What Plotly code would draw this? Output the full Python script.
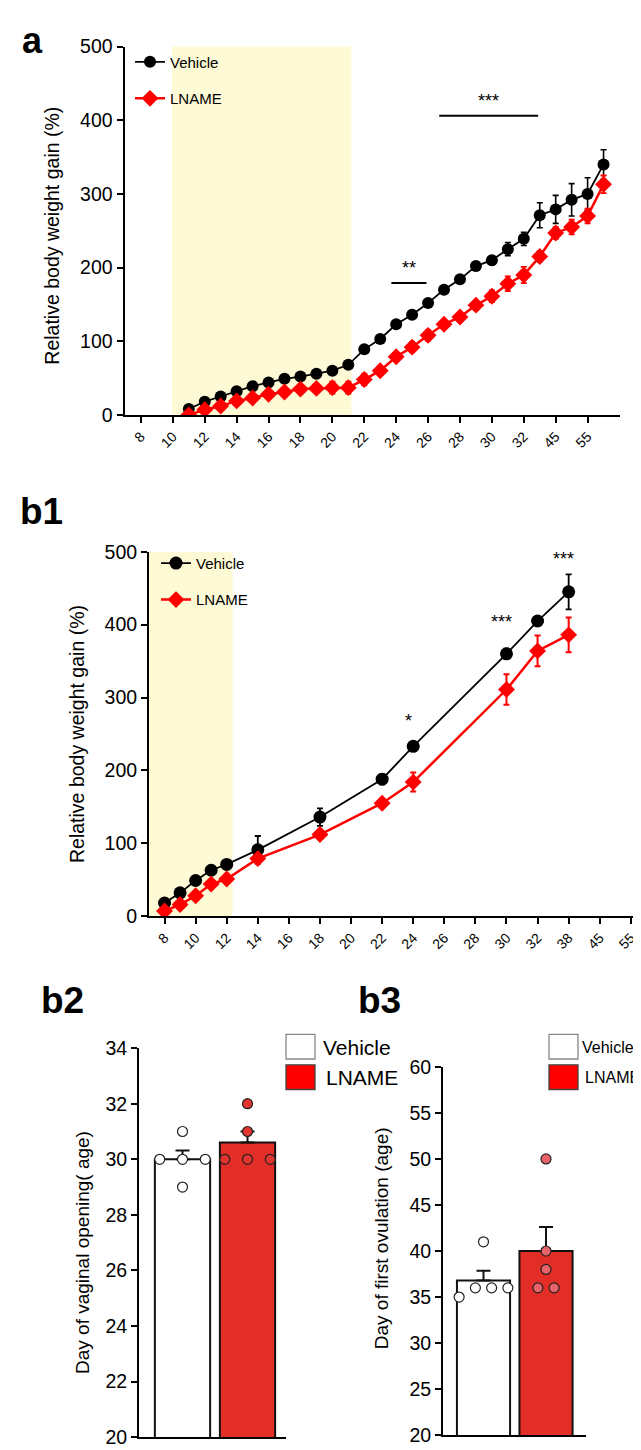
import numpy as np
import plotly.graph_objects as go

W, H = 641, 1450
FONT = "Liberation Sans, Arial, Helvetica, sans-serif"
NARROW = "Liberation Sans Narrow, Liberation Sans, Arial, sans-serif"

# ---------------- data: panel a ----------------
CATS_A = [str(d) for d in range(8, 34)] + ["45", "50", "55", "60"]
TICKS_A = ["8", "10", "12", "14", "16", "18", "20", "22", "24", "26", "28", "30", "32", "45", "55"]
DAYS_A = [str(d) for d in range(11, 34)] + ["45", "50", "55", "60"]
VEH_A = [8, 18, 25, 32, 39, 44, 49, 52, 56, 60, 68, 89, 103, 123, 136, 152, 170, 184,
         202, 210, 225, 239, 271, 279, 292, 300, 340]
VEH_A_SEM = [2, 2, 2, 3, 3, 3, 3, 3, 3, 3, 3, 3, 3, 3, 3, 3, 3, 4,
             6, 6, 9, 9, 17, 19, 22, 22, 20]
LN_A = [0, 7, 12, 19, 23, 28, 31, 35, 36, 37, 37, 48, 60, 79, 92, 108, 123, 133,
        149, 161, 178, 190, 215, 247, 255, 270, 313]
LN_A_SEM = [3, 3, 3, 3, 3, 4, 4, 5, 5, 8, 8, 8, 5, 5, 7, 7, 6, 6,
            6, 8, 10, 11, 7, 8, 10, 10, 12]
SIG_A = [("**", "24", "26", 179), ("***", "27", "33", 406)]
SHADE_A = ("10", "21")

# ---------------- data: panel b1 ----------------
CATS_B1 = [str(d) for d in range(8, 33)] + ["35", "38", "41", "45", "50", "55"]
TICKS_B1 = ["8", "10", "12", "14", "16", "18", "20", "22", "24", "26", "28", "30", "32", "38", "45", "55"]
DAYS_B1 = ["8", "9", "10", "11", "12", "14", "18", "22", "24", "30", "32", "38"]
VEH_B1 = [18, 32, 49, 63, 71, 91, 136, 188, 233, 360, 405, 445]
VEH_B1_SEM = [3, 3, 3, 3, 3, 19, 12, 7, 4, 7, 3, 24]
LN_B1 = [7, 16, 28, 44, 51, 79, 112, 155, 184, 311, 364, 386]
LN_B1_SEM = [2, 3, 3, 3, 3, 6, 4, 3, 13, 21, 21, 24]
SIG_B1 = [("*", "24", 268), ("***", "30", 404), ("***", "38", 490)]
SHADE_B1 = ("8", "12")

# ---------------- data: panels b2 / b3 ----------------
GROUPS = ["Vehicle", "LNAME"]
VO_VEH = [30, 31, 30, 29, 30]
VO_LN = [30, 32, 31, 30, 30]
OV_VEH = [35, 41, 36, 36, 36]
OV_LN = [50, 40, 38, 36, 36]

RED = "#ff0000"
BAR_RED = "#e32d27"


def X(px):
    return px / W


def Y(py):
    return 1 - py / H


fig = go.Figure()

axis_common = dict(showline=True, linecolor="black", linewidth=2, showgrid=False,
                   zeroline=False, ticks="outside", tickcolor="black", tickwidth=2,
                   ticklen=6, tickfont=dict(family=FONT, size=19.5, color="black"))
xtickfont = dict(family=FONT, size=14, color="black")

# ---------- panel a ----------
xa = [CATS_A.index(d) for d in DAYS_A]
fig.add_trace(go.Scatter(x=xa, y=VEH_A, mode="lines+markers", name="Vehicle",
                         line=dict(color="black", width=1.8),
                         marker=dict(symbol="circle", size=12, color="black"),
                         error_y=dict(type="data", array=VEH_A_SEM, color="black", thickness=1.6, width=3),
                         xaxis="x", yaxis="y", legend="legend", legendgroup="va"))
fig.add_trace(go.Scatter(x=xa, y=LN_A, mode="lines+markers", name="LNAME",
                         line=dict(color=RED, width=2.5),
                         marker=dict(symbol="diamond", size=13, color=RED),
                         error_y=dict(type="data", array=LN_A_SEM, color=RED, thickness=1.8, width=3),
                         xaxis="x", yaxis="y", legend="legend", legendgroup="la"))

# ---------- panel b1 ----------
xb = [CATS_B1.index(d) for d in DAYS_B1]
fig.add_trace(go.Scatter(x=xb, y=VEH_B1, mode="lines+markers", name="Vehicle",
                         line=dict(color="black", width=1.8),
                         marker=dict(symbol="circle", size=13, color="black"),
                         error_y=dict(type="data", array=VEH_B1_SEM, color="black", thickness=1.8, width=3),
                         xaxis="x2", yaxis="y2", legend="legend2", legendgroup="vb"))
fig.add_trace(go.Scatter(x=xb, y=LN_B1, mode="lines+markers", name="LNAME",
                         line=dict(color=RED, width=2.5),
                         marker=dict(symbol="diamond", size=13, color=RED),
                         error_y=dict(type="data", array=LN_B1_SEM, color=RED, thickness=2, width=3),
                         xaxis="x2", yaxis="y2", legend="legend2", legendgroup="lb"))


# ---------- bar panels ----------
def swarm(vals, tol, step):
    vals = np.asarray(vals, float)
    order = np.argsort(vals, kind="stable")
    offs = np.zeros(len(vals))
    groups, cur = [], [order[0]]
    for i in order[1:]:
        if vals[i] - vals[cur[0]] < tol:
            cur.append(i)
        else:
            groups.append(cur)
            cur = [i]
    groups.append(cur)
    for g in groups:
        n = len(g)
        for k, i in enumerate(g):
            offs[i] = (k - (n - 1) / 2) * step
    return offs


def bar_panel(veh, ln, xax, yax, tol, step, ln_dot):
    data = [np.array(veh, float), np.array(ln, float)]
    means = [d.mean() for d in data]
    sems = [d.std(ddof=1) / np.sqrt(len(d)) for d in data]
    fig.add_trace(go.Bar(x=[0, 1], y=means, width=0.85, base=0,
                         marker=dict(color=["white", BAR_RED], line=dict(color="#111", width=2)),
                         error_y=dict(type="data", array=sems, arrayminus=[0, 0], symmetric=False,
                                      color="#111", thickness=2, width=7),
                         xaxis=xax, yaxis=yax, showlegend=False))
    for gi, (d, fill) in enumerate(zip(data, ["white", ln_dot])):
        fig.add_trace(go.Scatter(x=gi + swarm(d, tol, step), y=d, mode="markers",
                                 marker=dict(size=10, color=fill, line=dict(color="#222", width=1.2)),
                                 xaxis=xax, yaxis=yax, showlegend=False))


bar_panel(VO_VEH, VO_LN, "x3", "y3", tol=0.35, step=0.35, ln_dot="#e2342f")
bar_panel(OV_VEH, OV_LN, "x4", "y4", tol=1.1, step=0.26, ln_dot="#e8626a")

# ---------- shapes ----------
shapes = []
shapes.append(dict(type="rect", xref="x", yref="y", layer="below",
                   x0=CATS_A.index(SHADE_A[0]) - 0.05, x1=CATS_A.index(SHADE_A[1]) + 0.2,
                   y0=0, y1=509, fillcolor="#fefad6", line=dict(width=0)))
shapes.append(dict(type="rect", xref="x2", yref="y2", layer="below",
                   x0=-1, x1=CATS_B1.index(SHADE_B1[1]) + 0.38,
                   y0=0, y1=500, fillcolor="#fefad6", line=dict(width=0)))
annotations = []
for txt, a0, a1, yv in SIG_A:
    x0 = CATS_A.index(a0) - 0.3
    x1 = CATS_A.index(a1) - 0.1
    shapes.append(dict(type="line", xref="x", yref="y", x0=x0, x1=x1, y0=yv, y1=yv,
                       line=dict(color="black", width=2)))
    annotations.append(dict(xref="x", yref="y", x=(x0 + x1) / 2, y=yv + 4, text=txt,
                            showarrow=False, yanchor="bottom",
                            font=dict(family=FONT, size=18, color="black")))
for txt, d, yv in SIG_B1:
    annotations.append(dict(xref="x2", yref="y2", x=CATS_B1.index(d) - 0.3, y=yv, text=txt,
                            showarrow=False, yanchor="middle",
                            font=dict(family=FONT, size=18, color="black")))

# legends for bar panels (boxes + text)
for (bx, tx, fs) in [(278, 313, 21), (541, 572, 16)]:
    for j, (fill, edge, name, dy) in enumerate([("white", "#888", "Vehicle", 0),
                                                 (RED, "#444", "LNAME", 31)]):
        shapes.append(dict(type="rect", xref="paper", yref="paper",
                           x0=X(bx), x1=X(bx + 29), y0=Y(1031 + dy + 25), y1=Y(1031 + dy),
                           fillcolor=fill, line=dict(color=edge, width=1.3)))
        annotations.append(dict(xref="paper", yref="paper", x=X(tx + (3 if j else 0)),
                                y=Y(1044 + dy), text=name, showarrow=False,
                                xanchor="left", yanchor="middle",
                                font=dict(family=FONT, size=fs, color="black")))

# panel labels
for txt, px, py, sz in [("a", 12, 22, 36), ("b1", 10, 500, 37), ("b2", 31, 997, 37), ("b3", 348, 997, 37)]:
    annotations.append(dict(xref="paper", yref="paper", x=X(px), y=Y(py), text="<b>%s</b>" % txt,
                            showarrow=False, xanchor="left", yanchor="middle",
                            font=dict(family=FONT, size=sz, color="black")))

# axis titles
for txt, px, py, sz in [("Relative body weight gain (%)", 44, 220, 19.5),
                        ("Relative body weight gain (%)", 69, 726, 19.5),
                        ("Day of vaginal opening( age)", 75, 1253, 19),
                        ("Day of first ovulation (age)", 373, 1238, 19)]:
    annotations.append(dict(xref="paper", yref="paper", x=X(px), y=Y(py), text=txt,
                            showarrow=False, textangle=-90, xanchor="center", yanchor="middle",
                            font=dict(family=FONT, size=sz, color="black")))

legend_style = dict(bgcolor="rgba(0,0,0,0)", borderwidth=0, xanchor="left", yanchor="top",
                    font=dict(family=NARROW, size=15, color="black"),
                    traceorder="grouped", tracegroupgap=14, itemwidth=30)

fig.update_layout(
    width=W, height=H, margin=dict(l=0, r=0, t=0, b=0),
    paper_bgcolor="white", plot_bgcolor="rgba(0,0,0,0)",
    font=dict(family=FONT, color="black"),
    showlegend=True,
    legend=dict(x=X(122), y=Y(27), **legend_style),
    legend2=dict(x=X(148), y=Y(536), **legend_style),
    xaxis=dict(domain=[X(116.5), X(611.5)], range=[-1.03, 30], anchor="y",
               tickvals=[CATS_A.index(t) for t in TICKS_A], ticktext=TICKS_A, tickangle=-45,
               **{**axis_common, "tickfont": xtickfont}),
    yaxis=dict(domain=[Y(402), Y(28)], range=[0, 500], anchor="x",
               tickvals=[0, 100, 200, 300, 400, 500], **axis_common),
    xaxis2=dict(domain=[X(141), 1.0], range=[-1.0, 31.17], anchor="y2",
                tickvals=[CATS_B1.index(t) for t in TICKS_B1], ticktext=TICKS_B1, tickangle=-45,
                **{**axis_common, "tickfont": xtickfont}),
    yaxis2=dict(domain=[Y(911), Y(541)], range=[0, 500], anchor="x2",
                tickvals=[0, 100, 200, 300, 400, 500], **axis_common),
    xaxis3=dict(domain=[X(131), X(278)], range=[-0.669, 1.592], anchor="y3",
                **{**axis_common, "ticks": "", "showticklabels": False}),
    yaxis3=dict(domain=[Y(1440), Y(1045)], range=[20, 34], anchor="x3",
                tickvals=list(range(20, 35, 2)), **axis_common),
    xaxis4=dict(domain=[X(435), X(578)], range=[-0.648, 1.64], anchor="y4",
                **{**axis_common, "ticks": "", "showticklabels": False}),
    yaxis4=dict(domain=[Y(1438), Y(1064)], range=[20, 60], anchor="x4",
                tickvals=list(range(20, 61, 5)), **axis_common),
    shapes=shapes, annotations=annotations,
)

fig.write_html("out.html", config={"displayModeBar": False})
